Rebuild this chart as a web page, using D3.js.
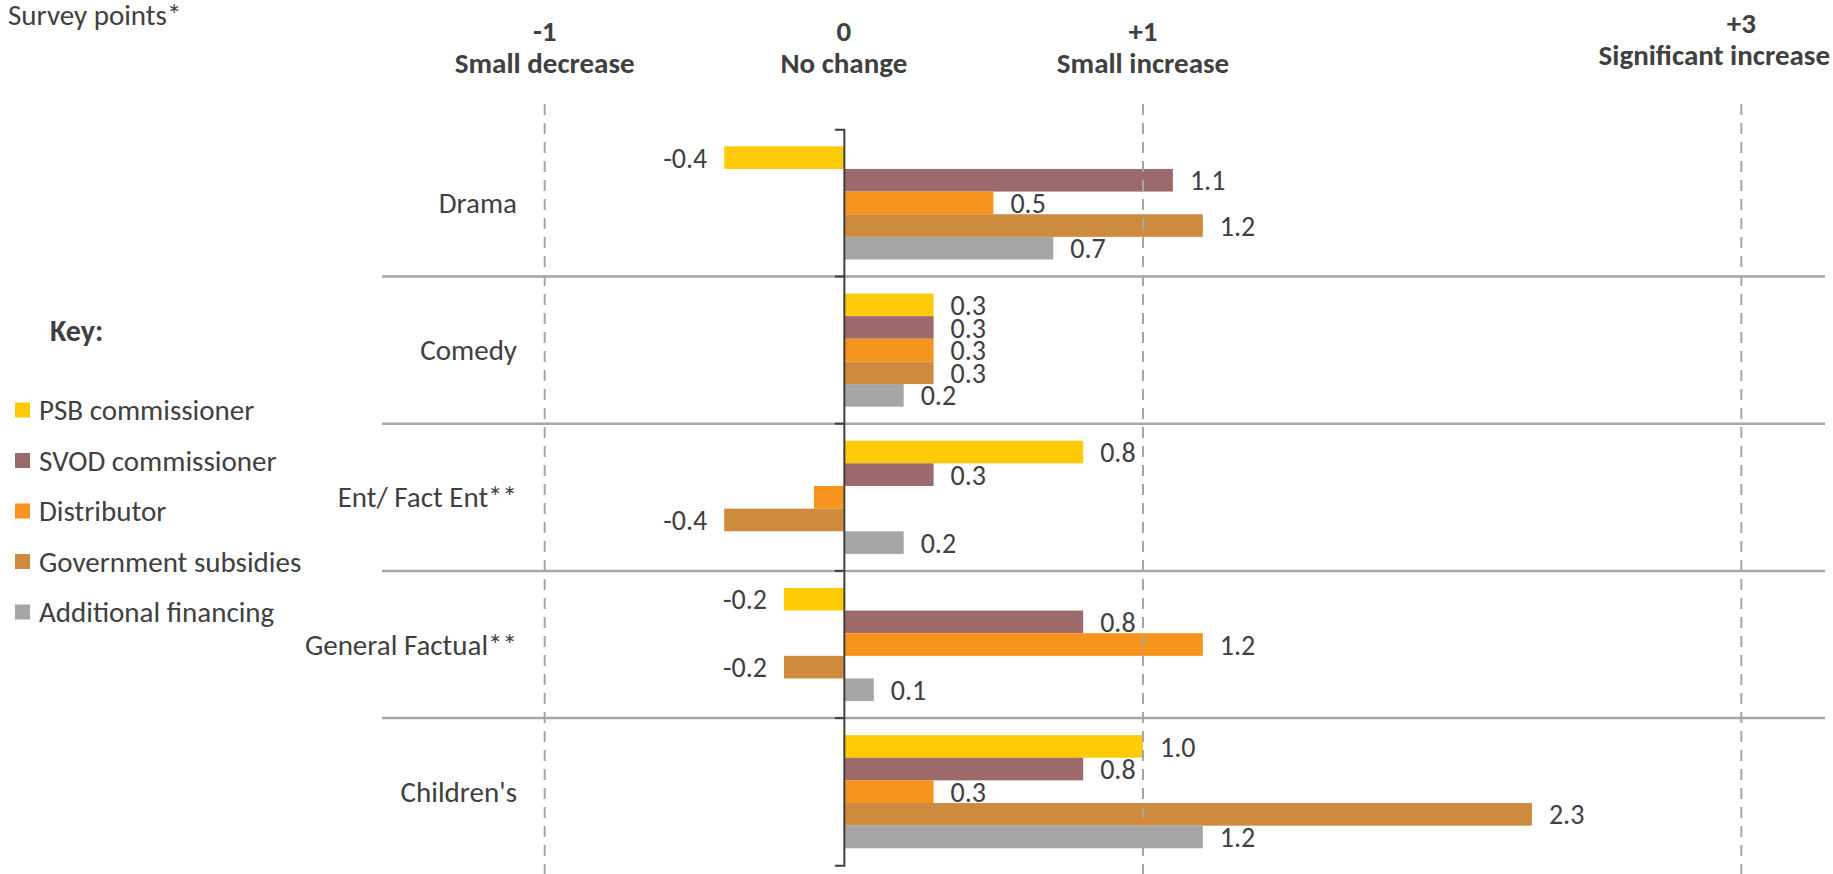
<!DOCTYPE html>
<html>
<head>
<meta charset="utf-8">
<script src="https://cdn.jsdelivr.net/npm/d3@7"></script>
<style>
  html, body { margin: 0; padding: 0; background: #fff; }
  svg { display: block; }
  text { font-family: Carlito, Calibri, Lato, sans-serif; fill: #404040; }
</style>
</head>
<body>
<svg id="chart" width="1833" height="874"></svg>
<script>
// Genres (category axis, top to bottom)
const categories = ["Drama", "Comedy", "Ent/ Fact Ent**", "General Factual**", "Children's"];

// Funding sources (one bar each per genre)
const series = ["PSB commissioner", "SVOD commissioner", "Distributor", "Government subsidies", "Additional financing"];
const colors = ["#FFCB08", "#9C6A6A", "#F7941D", "#CE8B3E", "#A6A6A6"];

// Average survey points, one array per funding source, in genre order
const psb        = [-0.4, 0.3,  0.8, -0.2, 1.0];
const svod       = [ 1.1, 0.3,  0.3,  0.8, 0.8];
const distributor= [ 0.5, 0.3, -0.1,  1.2, 0.3];
const government = [ 1.2, 0.3, -0.4, -0.2, 2.3];
const additional = [ 0.7, 0.2,  0.2,  0.1, 1.2];
const seriesValues = [psb, svod, distributor, government, additional];

// Bars that carry no value label: [genre, funding source]
const unlabelled = [["Ent/ Fact Ent**", "Distributor"]];

// Scale reference markers across the top
const markerValues = [-1, 0, 1, 3];
const markerNumbers = ["-1", "0", "+1", "+3"];
const markerNames = ["Small decrease", "No change", "Small increase", "Significant increase"];

const W = 1833;
const svg = d3.select("#chart");

const x = d3.scaleLinear().domain([-1, 3]).range([544.7, 1741.3]);
const y0 = d3.scaleBand().domain(categories).range([129.3, 865.3]).padding(0);
const barPad = 17;
const y1 = d3.scaleBand().domain(series).range([barPad, y0.bandwidth() - barPad]).padding(0);

const rows = [];
categories.forEach((c, ci) => {
  series.forEach((s, si) => {
    rows.push({ cat: c, series: s, value: seriesValues[si][ci], color: colors[si] });
  });
});

// Genre separators
svg.append("g").selectAll("line")
  .data(categories.slice(1))
  .join("line")
  .attr("x1", 382).attr("x2", 1825)
  .attr("y1", d => y0(d)).attr("y2", d => y0(d))
  .attr("stroke", "#A6A6A6").attr("stroke-width", 2.5);

// Bars
svg.append("g").selectAll("rect")
  .data(rows)
  .join("rect")
  .attr("x", d => x(Math.min(0, d.value)))
  .attr("width", d => Math.abs(x(d.value) - x(0)))
  .attr("y", d => y0(d.cat) + y1(d.series))
  .attr("height", y1.bandwidth())
  .attr("fill", d => d.color);

// Value labels
const isHidden = d => unlabelled.some(u => u[0] === d.cat && u[1] === d.series);
svg.append("g").selectAll("text")
  .data(rows.filter(d => !isHidden(d)))
  .join("text")
  .attr("x", d => d.value < 0 ? x(d.value) - 17 : x(d.value) + 17)
  .attr("y", d => y0(d.cat) + y1(d.series) + y1.bandwidth() / 2)
  .attr("dy", "0.36em")
  .attr("text-anchor", d => d.value < 0 ? "end" : "start")
  .style("font-size", "28px")
  .text(d => d.value.toFixed(1));

// Dashed reference lines
svg.append("g").selectAll("line")
  .data(markerValues.filter(v => v !== 0))
  .join("line")
  .attr("x1", d => x(d)).attr("x2", d => x(d))
  .attr("y1", 104).attr("y2", 874)
  .attr("stroke", "#A6A6A6").attr("stroke-width", 2)
  .attr("stroke-dasharray", "11,8");

// Category axis at zero
const axis = svg.append("g")
  .attr("transform", `translate(${x(0)},0)`)
  .call(d3.axisLeft(y0).tickSizeInner(0).tickSizeOuter(9).tickFormat(""));
axis.select(".domain").attr("stroke", "#404040").attr("stroke-width", 2);
axis.selectAll(".tick line").remove();
axis.selectAll(".boundary")
  .data(categories.slice(1))
  .join("line")
  .attr("class", "boundary")
  .attr("x1", -9).attr("x2", 0)
  .attr("y1", d => y0(d)).attr("y2", d => y0(d))
  .attr("stroke", "#404040").attr("stroke-width", 2);

// Genre labels
svg.append("g").selectAll("text")
  .data(categories)
  .join("text")
  .attr("x", 517)
  .attr("y", d => y0(d) + y0.bandwidth() / 2)
  .attr("dy", "0.35em")
  .attr("text-anchor", "end")
  .style("font-size", "29px")
  .text(d => d);

// Top markers: number above, description below; the last is kept inside the page
const markers = svg.append("g").selectAll("g")
  .data(markerValues)
  .join("g")
  .attr("transform", d => `translate(${x(d)},${d === 3 ? -8 : 0})`);
markers.append("text")
  .attr("y", 41).attr("text-anchor", "middle")
  .style("font-size", "29px").style("font-weight", "bold")
  .text((d, i) => markerNumbers[i]);
markers.append("text")
  .attr("y", 73).attr("text-anchor", "middle")
  .style("font-size", "29px").style("font-weight", "bold")
  .text((d, i) => markerNames[i])
  .each(function () {
    const bb = this.getBBox();
    const g = this.parentNode.transform.baseVal.consolidate().matrix;
    const right = g.e + bb.x + bb.width;
    if (right > W - 3) this.setAttribute("x", (W - 3) - right);
  });

// Axis title
svg.append("text")
  .attr("x", 8).attr("y", 25)
  .style("font-size", "29px")
  .text("Survey points*");

// Key
svg.append("text")
  .attr("x", 50).attr("y", 341)
  .style("font-size", "30px").style("font-weight", "bold")
  .text("Key:");
const key = svg.append("g").selectAll("g")
  .data(series)
  .join("g")
  .attr("transform", (d, i) => `translate(15,${410 + i * 50.5})`);
key.append("rect")
  .attr("x", 0).attr("y", -7.5).attr("width", 15).attr("height", 15)
  .attr("fill", (d, i) => colors[i]);
key.append("text")
  .attr("x", 24).attr("dy", "0.35em")
  .style("font-size", "29px")
  .text(d => d);
</script>
</body>
</html>
